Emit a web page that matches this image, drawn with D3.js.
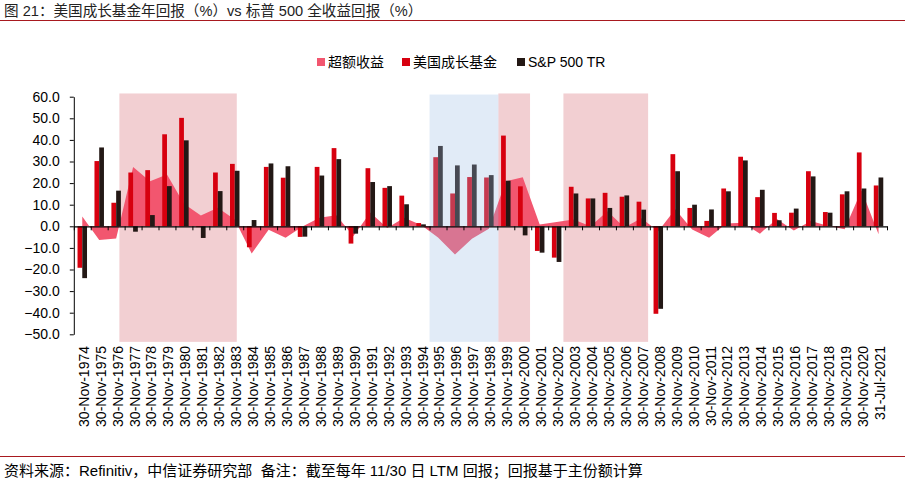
<!DOCTYPE html>
<html><head><meta charset="utf-8">
<script src="https://cdn.jsdelivr.net/npm/d3@7"></script>
<style>
html,body{margin:0;padding:0;background:#fff;}
text{font-family:"Liberation Sans","Noto Sans CJK SC",Arial,sans-serif;}
</style></head>
<body><svg id="c" width="905" height="484"></svg>
<script>
const categories = ["30-Nov-1974","30-Nov-1975","30-Nov-1976","30-Nov-1977","30-Nov-1978","30-Nov-1979","30-Nov-1980","30-Nov-1981","30-Nov-1982","30-Nov-1983","30-Nov-1984","30-Nov-1985","30-Nov-1986","30-Nov-1987","30-Nov-1988","30-Nov-1989","30-Nov-1990","30-Nov-1991","30-Nov-1992","30-Nov-1993","30-Nov-1994","30-Nov-1995","30-Nov-1996","30-Nov-1997","30-Nov-1998","30-Nov-1999","30-Nov-2000","30-Nov-2001","30-Nov-2002","30-Nov-2003","30-Nov-2004","30-Nov-2005","30-Nov-2006","30-Nov-2007","30-Nov-2008","30-Nov-2009","30-Nov-2010","30-Nov-2011","30-Nov-2012","30-Nov-2013","30-Nov-2014","30-Nov-2015","30-Nov-2016","30-Nov-2017","30-Nov-2018","30-Nov-2019","30-Nov-2020","31-Jul-2021"];
const fundReturn = [-19.2,30.2,10.9,24.9,26.0,42.6,50.2,-0.4,24.9,28.9,-9.7,27.5,22.5,-4.9,27.5,36.2,-8.0,26.9,17.8,14.2,1.5,32.0,15.2,22.8,22.6,42.0,18.5,-11.4,-14.5,18.3,12.9,15.5,13.7,11.4,-40.5,33.4,8.5,2.5,17.5,32.2,13.5,6.2,6.3,25.5,6.6,14.8,34.2,18.9];
const spReturn = [-24.0,36.5,16.5,-2.5,5.2,18.6,39.8,-5.4,16.3,25.7,2.9,29.1,27.8,-4.8,23.5,31.1,-3.4,20.5,18.6,10.2,0.9,37.2,28.2,28.6,23.7,21.1,-4.2,-12.2,-16.5,15.2,12.9,8.5,14.3,7.7,-38.2,25.5,10.0,7.8,16.2,30.5,16.9,2.8,8.2,23.1,6.3,16.2,17.5,22.6];
const excessReturn = [4.5,-6.3,-5.6,27.4,20.8,24.0,10.4,5.0,8.6,3.2,-12.6,-1.6,-5.3,-0.1,4.0,5.1,-4.6,6.4,-0.8,4.0,0.6,-5.2,-13.0,-5.8,-1.1,20.9,22.7,0.8,2.0,3.1,0.0,7.0,-0.6,3.7,-2.3,7.9,-1.5,-5.3,1.3,1.7,-3.4,3.4,-1.9,2.4,0.3,-1.4,16.7,-3.7];
const yTicks = [60,50,40,30,20,10,0,-10,-20,-30,-40,-50];
// shaded periods, in category-index units (start, end)
const pinkPeriods = [[2.69,9.62],[25.06,26.93],[28.9,33.9]];
const bluePeriods = [[21.0,25.06]];
const seriesNames = ["超额收益","美国成长基金","S&P 500 TR"];
const title = "图 21：美国成长基金年回报（%）vs 标普 500 全收益回报（%）";
const footnote = "资料来源：Refinitiv，中信证券研究部  备注：截至每年 11/30 日 LTM 回报；回报基于主份额计算";

const colors = {excess:"#F2566F", fund:"#D7000F", sp:"#231815", pink:"#F2CFD2", blue:"#9DBCE3"};

const svg = d3.select("#c");
const L = 73.8, R = 887, T = 96.7, B = 334.3;
const x = d3.scaleBand().domain(categories).range([L, R]).padding(0);
const xi = d3.scaleLinear().domain([0, categories.length]).range([L, R]);
const y = d3.scaleLinear().domain([-50, 60]).range([B, T]);
const cx = c => x(c) + x.bandwidth()/2;
const bw = x.bandwidth()*0.28;

// title
svg.append("text").attr("x",4).attr("y",16).attr("font-size",14.6).attr("fill","#222").style("white-space","pre").text(title);
svg.append("line").attr("x1",0).attr("x2",905).attr("y1",20.5).attr("y2",20.5).attr("stroke","#A8191F").attr("stroke-width",1.2);

// pink shades (under)
svg.append("g").selectAll("rect").data(pinkPeriods).join("rect")
  .attr("x",d=>xi(d[0])).attr("width",d=>xi(d[1])-xi(d[0]))
  .attr("y",y(61.5)).attr("height",y(-53.5)-y(61.5)).attr("fill",colors.pink);

// area
const area = d3.area().x((d,i)=>cx(categories[i])).y0(y(0)).y1(d=>y(d)).curve(d3.curveLinear);
svg.append("path").datum(excessReturn).attr("d",area).attr("fill",colors.excess);

// bars
svg.append("g").selectAll("rect").data(fundReturn).join("rect")
  .attr("x",(d,i)=>cx(categories[i])-bw).attr("width",bw)
  .attr("y",d=>y(Math.max(0,d))).attr("height",d=>Math.abs(y(d)-y(0)))
  .attr("fill",colors.fund);
svg.append("g").selectAll("rect").data(spReturn).join("rect")
  .attr("x",(d,i)=>cx(categories[i])).attr("width",bw)
  .attr("y",d=>y(Math.max(0,d))).attr("height",d=>Math.abs(y(d)-y(0)))
  .attr("fill",colors.sp);

// blue shade (over, translucent)
svg.append("g").selectAll("rect").data(bluePeriods).join("rect")
  .attr("x",d=>xi(d[0])).attr("width",d=>xi(d[1])-xi(d[0]))
  .attr("y",y(61)).attr("height",y(-53.5)-y(61)).attr("fill",colors.blue).attr("opacity",0.3);

// y axis
const ya = svg.append("g").attr("transform",`translate(${L},0)`)
  .call(d3.axisLeft(y).tickValues(yTicks).tickFormat(d3.format(".1f")).tickSize(4).tickSizeOuter(0).tickPadding(10));
ya.select(".domain").attr("stroke","#000");
ya.selectAll("line").attr("stroke","#000");
ya.selectAll("text").attr("font-size",14).attr("fill","#000").style("font-family",'"Liberation Sans",Arial,sans-serif');

// x axis at zero
const xa = svg.append("g").attr("transform",`translate(0,${y(0)})`)
  .call(d3.axisBottom(xi).tickValues(d3.range(0,categories.length+1)).tickSize(4).tickSizeOuter(0).tickFormat(""));
xa.select(".domain").attr("stroke","#000").attr("stroke-width",1.3);
xa.selectAll("line").attr("stroke","#000");

// x labels
svg.append("g").selectAll("text").data(categories).join("text")
  .attr("transform",d=>`translate(${cx(d)+1.5},346) rotate(-90)`)
  .attr("dy","0.35em").attr("text-anchor","end").attr("font-size",14).attr("fill","#000").text(d=>d);

// legend
const leg = [{n:seriesNames[0],c:colors.excess,x:317},{n:seriesNames[1],c:colors.fund,x:402},{n:seriesNames[2],c:colors.sp,x:517}];
const lg = svg.append("g").selectAll("g").data(leg).join("g").attr("transform",d=>`translate(${d.x},58)`);
lg.append("rect").attr("width",8).attr("height",8).attr("fill",d=>d.c);
lg.append("text").attr("x",11).attr("y",8.5).attr("font-size",14).attr("fill","#000").text(d=>d.n);

// footer
svg.append("line").attr("x1",0).attr("x2",905).attr("y1",456.5).attr("y2",456.5).attr("stroke","#A8191F").attr("stroke-width",1.2);
svg.append("text").attr("x",4).attr("y",476).attr("font-size",15).attr("fill","#000").style("white-space","pre").text(footnote);
</script></body></html>
